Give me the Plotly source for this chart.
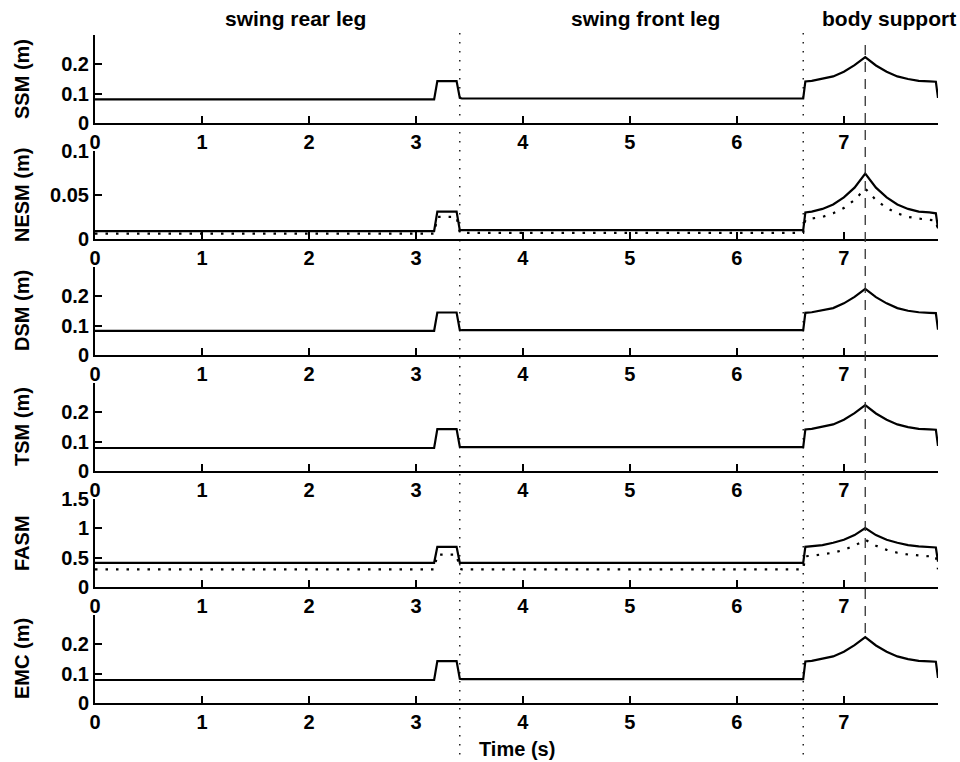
import plotly.graph_objects as go

# ---------------- data ----------------
t = [0.00, 3.17, 3.20, 3.38, 3.41, 3.43, 6.62, 6.64, 6.70, 6.80, 6.90, 7.00,
     7.10, 7.20, 7.30, 7.40, 7.50, 7.60, 7.70, 7.80, 7.86, 7.88]

ssm = [0.080, 0.080, 0.142, 0.142, 0.085, 0.083, 0.083, 0.141, 0.143, 0.150, 0.158, 0.174,
       0.196, 0.223, 0.195, 0.174, 0.158, 0.149, 0.143, 0.141, 0.140, 0.085]
nesm_solid = [0.009, 0.009, 0.031, 0.031, 0.010, 0.010, 0.010, 0.030, 0.031, 0.034, 0.039, 0.047,
              0.058, 0.074, 0.058, 0.047, 0.039, 0.034, 0.031, 0.030, 0.029, 0.012]
nesm_dotted = [0.006, 0.006, 0.025, 0.025, 0.007, 0.007, 0.007, 0.022, 0.023, 0.025, 0.029, 0.035,
               0.044, 0.057, 0.044, 0.035, 0.029, 0.025, 0.023, 0.022, 0.021, 0.010]
dsm = [0.082, 0.082, 0.144, 0.144, 0.085, 0.084, 0.084, 0.143, 0.145, 0.151, 0.159, 0.175,
       0.197, 0.224, 0.196, 0.175, 0.159, 0.150, 0.145, 0.143, 0.142, 0.086]
tsm = [0.078, 0.078, 0.142, 0.142, 0.082, 0.081, 0.081, 0.141, 0.143, 0.150, 0.158, 0.174,
       0.196, 0.223, 0.195, 0.174, 0.158, 0.149, 0.143, 0.141, 0.140, 0.085]
fasm_solid = [0.41, 0.41, 0.68, 0.68, 0.41, 0.41, 0.41, 0.68, 0.69, 0.71, 0.75, 0.80,
              0.88, 1.00, 0.88, 0.80, 0.75, 0.71, 0.69, 0.68, 0.67, 0.43]
fasm_dotted = [0.30, 0.30, 0.55, 0.55, 0.31, 0.30, 0.30, 0.52, 0.53, 0.55, 0.58, 0.63,
               0.70, 0.80, 0.70, 0.63, 0.58, 0.55, 0.53, 0.52, 0.52, 0.30]
emc = [0.078, 0.078, 0.142, 0.142, 0.082, 0.081, 0.081, 0.141, 0.143, 0.150, 0.158, 0.174,
       0.196, 0.223, 0.195, 0.174, 0.158, 0.149, 0.143, 0.141, 0.140, 0.085]

panel_labels = ["SSM (m)", "NESM (m)", "DSM (m)", "TSM (m)", "FASM", "EMC (m)"]
panel_ymax = [0.3, 0.1, 0.3, 0.3, 1.5, 0.3]
panel_yticks = [[0, 0.1, 0.2], [0, 0.05, 0.1], [0, 0.1, 0.2], [0, 0.1, 0.2],
                [0, 0.5, 1, 1.5], [0, 0.1, 0.2]]
panel_yticktext = [["0", "0.1", "0.2"], ["0", "0.05", "0.1"], ["0", "0.1", "0.2"],
                   ["0", "0.1", "0.2"], ["0", "0.5", "1", "1.5"], ["0", "0.1", "0.2"]]
solid_series = [ssm, nesm_solid, dsm, tsm, fasm_solid, emc]
dotted_series = [None, nesm_dotted, None, None, fasm_dotted, None]

x_ticks = [0, 1, 2, 3, 4, 5, 6, 7]
x_max = 7.88
phase_bounds = [3.41, 6.62]
peak_time = 7.2
phase_names = ["swing rear leg", "swing front leg", "body support"]
phase_name_x = [1.87, 5.15, 7.42]

# ---------------- layout geometry ----------------
W, H = 960, 762
ML, MR, MT, MB = 95, 22, 34, 59
PH = H - MT - MB


def py2paper(py):
    return (H - MB - py) / PH


FONT = "Liberation Sans, Arial, sans-serif"
TICKFONT = dict(family=FONT, size=20, color="black", weight="bold")
fig = go.Figure()
layout = dict(
    width=W, height=H,
    margin=dict(l=ML, r=MR, t=MT, b=MB),
    paper_bgcolor="white", plot_bgcolor="white",
    showlegend=False,
    font=dict(family=FONT, size=20, color="black", weight="bold"),
)

for i in range(6):
    bottom_px = 123 + 116 * i
    top_px = bottom_px - 88.5
    dom = [max(0.0, py2paper(bottom_px)), min(1.0, py2paper(top_px))]
    sx = "" if i == 0 else str(i + 1)
    xa = "x" + sx
    ya = "y" + sx
    fig.add_trace(go.Scatter(x=t, y=solid_series[i], mode="lines",
                             line=dict(color="black", width=2.2),
                             xaxis=xa, yaxis=ya, hoverinfo="skip"))
    if dotted_series[i] is not None:
        fig.add_trace(go.Scatter(x=t, y=dotted_series[i], mode="lines",
                                 line=dict(color="black", width=2.2, dash="2.5px,8px"),
                                 xaxis=xa, yaxis=ya, hoverinfo="skip"))
    layout["xaxis" + sx] = dict(
        domain=[0, 1], anchor=ya, range=[0, x_max],
        tickvals=x_ticks, ticktext=[str(v) for v in x_ticks],
        ticks="inside", ticklen=7, tickwidth=1.5, tickcolor="black",
        showline=True, linewidth=2, linecolor="black", mirror=False,
        showgrid=False, zeroline=False, tickfont=TICKFONT,
    )
    layout["yaxis" + sx] = dict(
        domain=dom, anchor=xa, range=[0, panel_ymax[i]],
        tickvals=panel_yticks[i], ticktext=panel_yticktext[i],
        ticks="inside", ticklen=7, tickwidth=1.5, tickcolor="black",
        showline=True, linewidth=2, linecolor="black", mirror=False,
        showgrid=False, zeroline=False, tickfont=TICKFONT,
    )

fig.update_layout(**layout)

annotations = []
for i, lab in enumerate(panel_labels):
    bottom_px = 123 + 116 * i
    mid = py2paper(bottom_px - 44)
    annotations.append(dict(text=lab, xref="paper", yref="paper",
                            x=(22 - ML) / (W - ML - MR), y=mid, textangle=-90,
                            showarrow=False, xanchor="center", yanchor="middle",
                            font=dict(family=FONT, size=20, color="black", weight="bold")))
for name, xc in zip(phase_names, phase_name_x):
    annotations.append(dict(text=name, xref="x", yref="paper", x=xc, y=py2paper(19),
                            showarrow=False, xanchor="center", yanchor="middle",
                            font=dict(family=FONT, size=21, color="black", weight="bold")))
annotations.append(dict(text="Time (s)", xref="paper", yref="paper", x=0.5, y=py2paper(749),
                        showarrow=False, xanchor="center", yanchor="middle",
                        font=dict(family=FONT, size=20, color="black", weight="bold")))
fig.update_layout(annotations=annotations)

shapes = []
for xb in phase_bounds:
    shapes.append(dict(type="line", xref="x", yref="paper", x0=xb, x1=xb,
                       y0=py2paper(33), y1=py2paper(757),
                       line=dict(color="black", width=1.3, dash="1.5px,7.5px")))
shapes.append(dict(type="line", xref="x", yref="paper", x0=peak_time, x1=peak_time,
                   y0=py2paper(45), y1=py2paper(635),
                   line=dict(color="#333333", width=1.3, dash="10px,7px")))
fig.update_layout(shapes=shapes)

fig.write_html("out.html")
